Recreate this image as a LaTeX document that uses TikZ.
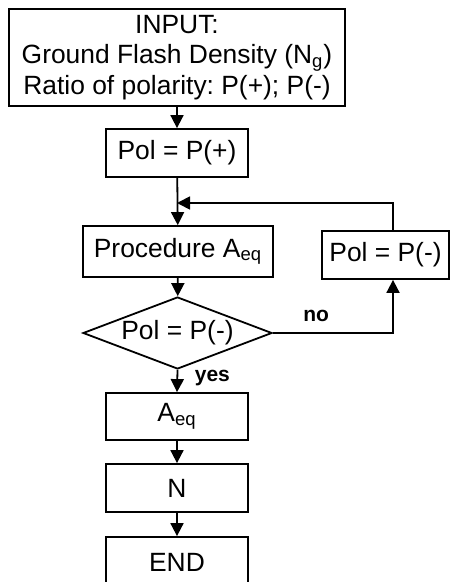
\documentclass[tikz,border=0pt]{standalone}
\usepackage{fontspec}
\setmainfont{Liberation Sans}
\usetikzlibrary{shapes.geometric,arrows.meta}
\frenchspacing

\begin{document}
\begin{tikzpicture}[x=0.5pt,y=-0.5pt]
\tikzset{box/.style = {draw, line width=0.9pt, inner sep=0pt, align=center, font=\fontsize{13.2}{15.3}\selectfont}}
\tikzset{decision/.style = {draw, diamond, line width=0.9pt, inner sep=0pt, minimum width=94.5pt, minimum height=36pt}}
\tikzset{edge/.style = {-{Triangle[length=6.5pt,width=6.5pt]}, line width=0.9pt}}
\tikzset{tag/.style = {font=\fontsize{10.5}{12}\selectfont\bfseries}}

\useasboundingbox (0,0) rectangle (456,582);
\fill[white] (0,0) rectangle (456,582);

\node[box, minimum width=168pt, minimum height=48.5pt] (input) at (177,57.5) {INPUT:\\ Ground Flash Density (N\textsubscript{g})\\ Ratio of polarity: P(+); P(-)};
\node[box, minimum width=71pt, minimum height=24pt] (polplus) at (177,153) {Pol = P(+)};
\node[box, minimum width=95pt, minimum height=25.5pt] (proc) at (178,251.5) {Procedure A\textsubscript{eq}};
\node[box, minimum width=63.5pt, minimum height=24pt] (polminus) at (385.5,255) {Pol = P(-)};
\node[decision, label={[font=\fontsize{13.2}{15}\selectfont]center:Pol = P(-)}] (dec) at (177.5,333) {};
\node[box, minimum width=71pt, minimum height=23.5pt] (aeq) at (177,416.5) {A\textsubscript{eq}};
\node[box, minimum width=71pt, minimum height=24pt] (nbox) at (177,488) {N};
\node[box, minimum width=71pt, minimum height=25pt, text depth=0pt] (endbox) at (177,562) {END};

\coordinate (join) at (177,203);
\coordinate (back) at (393,231);

\draw[edge] (input) -- (polplus);
\draw[edge] (polplus) -- (proc);
\draw[edge] (back) |- (join);
\draw[edge] (proc) -- (dec);
\draw[edge] (dec.east) -| (back |- polminus.south) node[pos=0.18, above, yshift=2pt, tag]{no};
\draw[edge] (dec.south) -- (aeq.north) node[pos=0.38, right, xshift=5pt, tag]{yes};
\draw[edge] (aeq) -- (nbox);
\draw[edge] (nbox) -- (endbox);

\end{tikzpicture}
\end{document}
